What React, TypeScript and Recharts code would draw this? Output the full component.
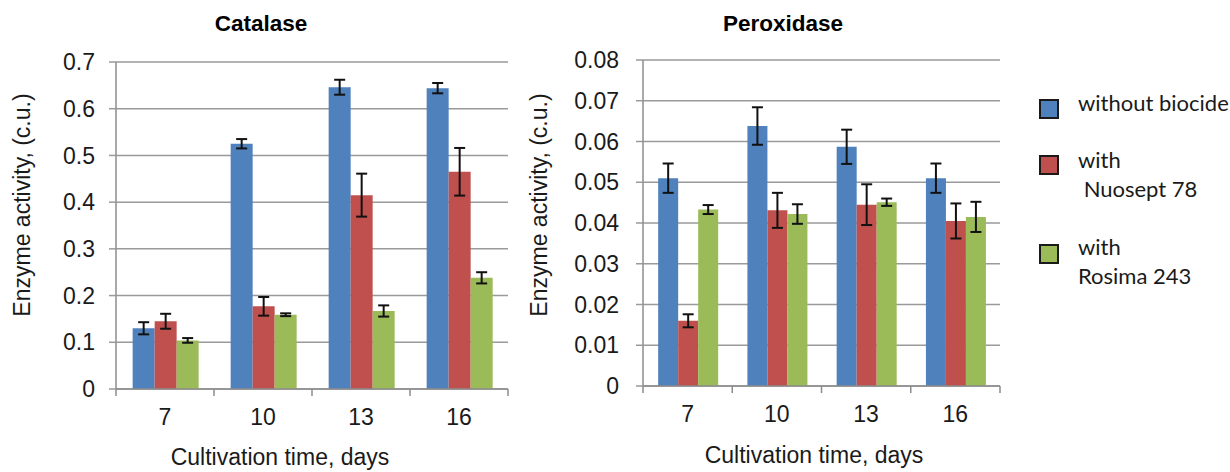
import React from 'react';
import { BarChart, Bar, XAxis, YAxis, CartesianGrid, ErrorBar } from 'recharts';

// cultivation days (categories)
const days = ['7', '10', '13', '16'];

// Catalase, c.u.
const catalaseWithout = [0.13, 0.525, 0.646, 0.644];
const catalaseWithoutErr = [0.013, 0.01, 0.016, 0.011];
const catalaseNuosept = [0.145, 0.177, 0.415, 0.465];
const catalaseNuoseptErr = [0.016, 0.02, 0.046, 0.051];
const catalaseRosima = [0.104, 0.159, 0.167, 0.238];
const catalaseRosimaErr = [0.005, 0.003, 0.012, 0.012];

// Peroxidase, c.u.
const peroxWithout = [0.051, 0.0638, 0.0587, 0.051];
const peroxWithoutErr = [0.0036, 0.0046, 0.0042, 0.0036];
const peroxNuosept = [0.016, 0.0431, 0.0445, 0.0405];
const peroxNuoseptErr = [0.0016, 0.0043, 0.005, 0.0043];
const peroxRosima = [0.0433, 0.0422, 0.0451, 0.0415];
const peroxRosimaErr = [0.0011, 0.0024, 0.0009, 0.0037];

const catalaseTicks = [0, 0.1, 0.2, 0.3, 0.4, 0.5, 0.6, 0.7];
const peroxTicks = [0, 0.01, 0.02, 0.03, 0.04, 0.05, 0.06, 0.07, 0.08];

const seriesColors = ['#4F81BD', '#C0504D', '#9BBB59'];
const legendLines = [['without biocide'], ['with', '\u00a0Nuosept 78'], ['with', 'Rosima 243']];

const catalaseData = days.map((day, i) => ({
  day,
  without: catalaseWithout[i],
  withoutErr: catalaseWithoutErr[i],
  nuosept: catalaseNuosept[i],
  nuoseptErr: catalaseNuoseptErr[i],
  rosima: catalaseRosima[i],
  rosimaErr: catalaseRosimaErr[i],
}));

const peroxData = days.map((day, i) => ({
  day,
  without: peroxWithout[i],
  withoutErr: peroxWithoutErr[i],
  nuosept: peroxNuosept[i],
  nuoseptErr: peroxNuoseptErr[i],
  rosima: peroxRosima[i],
  rosimaErr: peroxRosimaErr[i],
}));

const FONT = '"Liberation Sans", Arial, Helvetica, sans-serif';
const AXIS = '#8c8c8c';
const GRID = '#9a9a9a';
const TEXT = '#1a1a1a';
const X_TICK_SIZE = 6;
const X_TICK_MARGIN = 14;

// x ticks: label in the middle of the band, tick marks on the band edges
function BandTick(props: any) {
  const { x, y, payload, index, half } = props;
  const off = payload?.offset || half;
  const axisY = y - X_TICK_SIZE - X_TICK_MARGIN;
  const last = index === days.length - 1;
  return (
    <g>
      <line x1={x - off} x2={x - off} y1={axisY} y2={axisY + 7} stroke={AXIS} strokeWidth={1.5} />
      {last && <line x1={x + off} x2={x + off} y1={axisY} y2={axisY + 7} stroke={AXIS} strokeWidth={1.5} />}
      <text x={x} y={y} dy="0.71em" textAnchor="middle" fontSize={23} fill={TEXT} fontFamily={FONT}>
        {payload.value}
      </text>
    </g>
  );
}

interface PanelProps {
  title: string;
  data: any[];
  ticks: number[];
  width: number;
  margin: { top: number; right: number; bottom: number; left: number };
  yWidth: number;
  yTickMargin: number;
  titleX: number;
  yLabelX: number;
  xLabelX: number;
  xLabelTop: number;
}

function Panel(p: PanelProps) {
  const height = 472;
  const plotW = p.width - p.margin.left - p.yWidth - p.margin.right;
  const half = plotW / days.length / 2;
  return (
    <div style={{ position: 'relative', width: p.width, height }}>
      <BarChart
        width={p.width}
        height={height}
        data={p.data}
        margin={p.margin}
        barCategoryGap="17%"
        barGap={0}
      >
        <CartesianGrid vertical={false} stroke={GRID} strokeWidth={1.5} />
        <XAxis
          dataKey="day"
          height={40}
          axisLine={{ stroke: AXIS, strokeWidth: 1.5 }}
          tickLine={false}
          tickSize={X_TICK_SIZE}
          tickMargin={X_TICK_MARGIN}
          interval={0}
          tick={(t: any) => <BandTick {...t} half={half} />}
        />
        <YAxis
          width={p.yWidth}
          domain={[0, p.ticks[p.ticks.length - 1]]}
          ticks={p.ticks}
          interval={0}
          axisLine={{ stroke: AXIS, strokeWidth: 1.5 }}
          tickLine={{ stroke: GRID, strokeWidth: 1.5 }}
          tickSize={7}
          tickMargin={p.yTickMargin}
          tick={{ fontSize: 23, fill: TEXT, fontFamily: FONT }}
        />
        <Bar dataKey="without" fill={seriesColors[0]} isAnimationActive={false}>
          <ErrorBar dataKey="withoutErr" width={5.5} strokeWidth={2} stroke="#111" direction="y" />
        </Bar>
        <Bar dataKey="nuosept" fill={seriesColors[1]} isAnimationActive={false}>
          <ErrorBar dataKey="nuoseptErr" width={5.5} strokeWidth={2} stroke="#111" direction="y" />
        </Bar>
        <Bar dataKey="rosima" fill={seriesColors[2]} isAnimationActive={false}>
          <ErrorBar dataKey="rosimaErr" width={5.5} strokeWidth={2} stroke="#111" direction="y" />
        </Bar>
      </BarChart>

      <div
        style={{
          position: 'absolute', left: p.titleX - 150, top: 10, width: 300, textAlign: 'center',
          fontFamily: FONT, fontWeight: 'bold', fontSize: 22.5, lineHeight: '28px', color: '#000',
        }}
      >
        {p.title}
      </div>
      <div
        style={{
          position: 'absolute', left: p.yLabelX - 160, top: 205 - 14, width: 320, height: 28,
          textAlign: 'center', transform: 'rotate(-90deg)', fontFamily: FONT, fontSize: 23,
          lineHeight: '28px', color: TEXT, whiteSpace: 'nowrap',
        }}
      >
        Enzyme activity, (c.u.)
      </div>
      <div
        style={{
          position: 'absolute', left: p.xLabelX - 200, top: p.xLabelTop, width: 400, textAlign: 'center',
          fontFamily: FONT, fontSize: 23, lineHeight: '28px', color: TEXT, whiteSpace: 'nowrap',
        }}
      >
        Cultivation time, days
      </div>
    </div>
  );
}

function SeriesLegend() {
  const tops = [88, 145, 232];
  const boxTops = [99, 155, 244];
  return (
    <div style={{ position: 'absolute', left: 0, top: 0, fontFamily: 'Lato, "Open Sans", sans-serif', fontSize: 22, color: TEXT }}>
      {legendLines.map((lines, i) => (
        <React.Fragment key={i}>
          <div
            style={{
              position: 'absolute', left: 1039, top: boxTops[i], width: 20, height: 20,
              boxSizing: 'border-box', border: '2px solid #1a1a1a', background: seriesColors[i],
            }}
          />
          <div style={{ position: 'absolute', left: 1078, top: tops[i], lineHeight: '29px', whiteSpace: 'pre' }}>
            {lines.map((l, j) => (
              <div key={j}>{l}</div>
            ))}
          </div>
        </React.Fragment>
      ))}
    </div>
  );
}

export default function App() {
  return (
    <div style={{ position: 'absolute', left: 0, top: 0, width: 1230, height: 472, background: '#fff', overflow: 'hidden' }}>
      <div style={{ position: 'absolute', left: 0, top: 0 }}>
        <Panel
          title="Catalase"
          data={catalaseData}
          ticks={catalaseTicks}
          width={520}
          margin={{ top: 62, right: 12, bottom: 43, left: 40 }}
          yWidth={76}
          yTickMargin={14}
          titleX={261}
          yLabelX={22}
          xLabelX={280}
          xLabelTop={443}
        />
      </div>
      <div style={{ position: 'absolute', left: 520, top: 0 }}>
        <Panel
          title="Peroxidase"
          data={peroxData}
          ticks={peroxTicks}
          width={710}
          margin={{ top: 60, right: 230, bottom: 46, left: 40 }}
          yWidth={83}
          yTickMargin={17}
          titleX={263}
          yLabelX={19}
          xLabelX={294}
          xLabelTop={441}
        />
      </div>
      <SeriesLegend />
    </div>
  );
}
